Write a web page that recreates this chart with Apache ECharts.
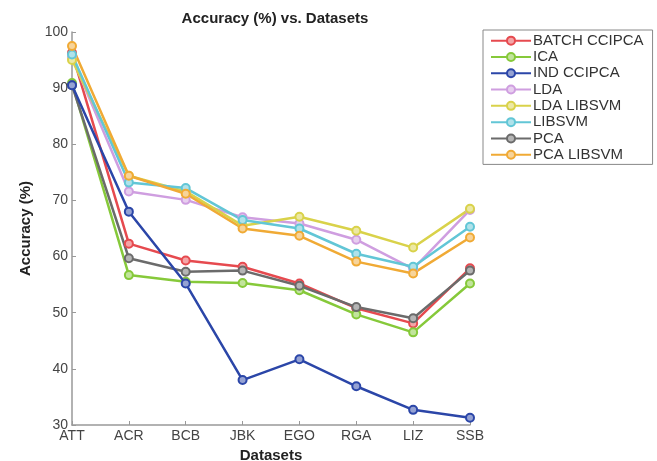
<!DOCTYPE html>
<html><head><meta charset="utf-8">
<script src="https://cdn.jsdelivr.net/npm/echarts@6/dist/echarts.min.js"></script>
<style>html,body{margin:0;padding:0;background:#fff;overflow:hidden}#c{width:657px;height:461px}</style>
</head><body><div id="c"></div>
<script>
const categories = ['ATT','ACR','BCB','JBK','EGO','RGA','LIZ','SSB'];
const yTicks = [30,40,50,60,70,80,90,100];
const seriesNames = ['BATCH CCIPCA','ICA','IND CCIPCA','LDA','LDA LIBSVM','LIBSVM','PCA','PCA LIBSVM'];
const batchCcipca = [96.3, 62.3, 59.3, 58.2, 55.2, 50.8, 48.1, 57.9];
const ica         = [90.9, 56.7, 55.5, 55.3, 54.0, 49.7, 46.5, 55.2];
const indCcipca   = [90.5, 68.0, 55.2, 38.0, 41.7, 36.9, 32.7, 31.3];
const lda         = [95.5, 71.6, 70.1, 67.0, 65.9, 63.0, 57.8, 68.3];
const ldaLibsvm   = [95.0, 74.4, 71.6, 65.5, 67.1, 64.6, 61.6, 68.5];
const libsvm      = [96.0, 73.2, 72.2, 66.5, 65.0, 60.5, 58.2, 65.3];
const pca         = [90.5, 59.7, 57.3, 57.5, 54.8, 51.0, 49.0, 57.5];
const pcaLibsvm   = [97.5, 74.4, 71.2, 65.0, 63.7, 59.1, 57.0, 63.4];
const seriesData = [batchCcipca, ica, indCcipca, lda, ldaLibsvm, libsvm, pca, pcaLibsvm];
const colors = ['#e64a4f','#86c93a','#2b46a8','#cf9ee0','#d9d24a','#62c6d6','#6b6b6b','#f0aa35'];
const fills  = ['#f3a5a7','#c2e49c','#95a2d3','#e7cfef','#ece8a4','#b0e2ea','#b5b5b5','#f7d49a'];

const chart = echarts.init(document.getElementById('c'), null, {renderer:'canvas', width:657, height:461});
const font = 'Liberation Sans, Arial, sans-serif';
chart.setOption({
  animation:false,
  color: colors,
  title:{text:'Accuracy (%) vs. Datasets', left:270, top:6, textAlign:'center',
    textStyle:{fontFamily:font,fontSize:15,fontWeight:'bold',color:'#222'}},
  grid:{left:72, right:187, top:32, bottom:36, containLabel:false, outerBoundsMode:'none'},
  legend:{orient:'vertical', left:483, top:30,
    data: seriesNames, borderColor:'#888', borderWidth:1, padding:[3,9,2,7], itemGap:1,
    itemWidth:40, itemHeight:10,
    textStyle:{fontFamily:font,fontSize:15,lineHeight:15.3,color:'#333',padding:[0,0,0,-3]}},
  xAxis:{type:'category', data:categories, boundaryGap:false, name:'Datasets',
    nameLocation:'middle', nameGap:22,
    nameTextStyle:{fontFamily:font,fontSize:15,fontWeight:'bold',color:'#222'},
    axisLine:{lineStyle:{color:'#999',width:1.5}},
    axisTick:{inside:true,length:4,alignWithLabel:true,lineStyle:{color:'#999'}},
    axisLabel:{fontFamily:font,fontSize:14,color:'#444',margin:4}},
  yAxis:{type:'value', min:30, max:100, interval:10, name:'Accuracy (%)',
    nameLocation:'middle', nameGap:35,
    nameTextStyle:{fontFamily:font,fontSize:15,fontWeight:'bold',color:'#222'},
    axisLine:{show:true,lineStyle:{color:'#999',width:1.5}},
    axisTick:{show:true,inside:true,length:4,lineStyle:{color:'#999'}},
    splitLine:{show:false},
    axisLabel:{fontFamily:font,fontSize:14,color:'#444',margin:4,
      formatter:v=> yTicks.includes(v)?String(v):''}},
  series: seriesNames.map((n,i)=>({
    name:n, type:'line', data:seriesData[i],
    symbol:'circle', symbolSize:8,
    lineStyle:{width:2.5,color:colors[i]},
    itemStyle:{color:fills[i], borderColor:colors[i], borderWidth:2},
    z: i===2?3:2
  }))
});
</script></body></html>
